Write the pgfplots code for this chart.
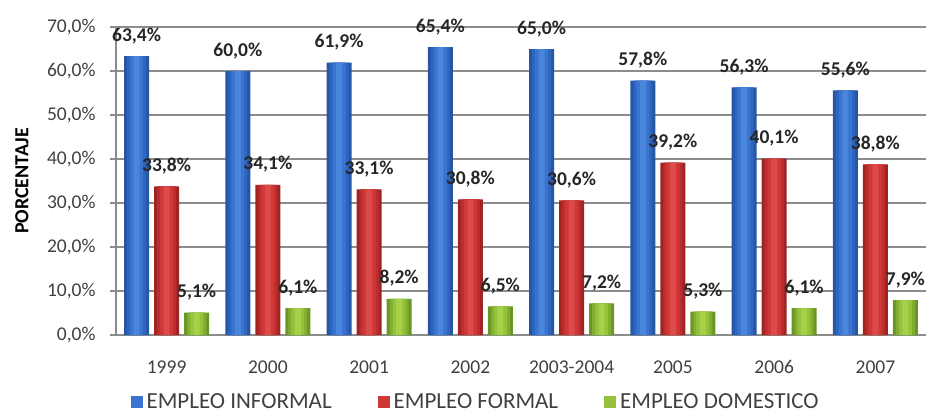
\documentclass[border=0pt]{standalone}
\usepackage{fontspec}
\setmainfont{Carlito}
\usepackage{pgfplots}
\usepackage{pgfplotstable}
\pgfplotsset{compat=1.18}
\definecolor{bluE}{HTML}{2656A6}
\definecolor{bluA}{HTML}{2E66BE}
\definecolor{bluM}{HTML}{3874D0}
\definecolor{bluL}{HTML}{4A86DC}
\definecolor{redE}{HTML}{A02424}
\definecolor{redA}{HTML}{BC2E2E}
\definecolor{redM}{HTML}{D03838}
\definecolor{redL}{HTML}{DC4A4A}
\definecolor{grnE}{HTML}{6A9626}
\definecolor{grnA}{HTML}{80AE30}
\definecolor{grnM}{HTML}{95C23A}
\definecolor{grnL}{HTML}{A6D04A}
\definecolor{gridc}{HTML}{8C8C8C}
\definecolor{txt}{HTML}{404040}
\newcommand\F{\fontsize{19.5}{23}\selectfont}
\pgfplotstableread{
x  inf   for   dom
0  63.4  33.8  5.1
1  60.0  34.1  6.1
2  61.9  33.1  8.2
3  65.4  30.8  6.5
4  65.0  30.6  7.2
5  57.8  39.2  5.3
6  56.3  40.1  6.1
7  55.6  38.8  7.9
}\data
\begin{document}
\begin{tikzpicture}
\begin{axis}[
  at={(0pt,0pt)}, anchor=south west,
  width=810pt, height=308pt, scale only axis,
  ybar,
  xmin=-0.5, xmax=7.5,
  ymin=0, ymax=70,
  xtick={0,...,7},
  xticklabels={1999,2000,2001,2002,2003-2004,2005,2006,2007},
  ytick={0,10,...,70},
  axis x line*=bottom, axis y line*=left,
  axis line style={gridc, line width=1.2pt},
  ymajorgrids, grid style={gridc, line width=1.1pt},
  major x tick style={draw=none},
  major y tick style={gridc, line width=1.2pt},
  tick align=outside, major tick length=6pt,
  /pgf/number format/assume math mode=true,
  yticklabel={\pgfmathprintnumber[fixed,fixed zerofill,precision=1,use comma]{\tick}\%},
  tick label style={font=\F, text=txt},
  yticklabel style={xshift=-11pt},
  xticklabel style={yshift=-16pt},
  ylabel={PORCENTAJE},
  every axis y label/.style={at={(axis description cs:0,0.5)}, xshift=-94pt, rotate=90, anchor=center, font=\fontsize{20}{24}\selectfont\bfseries, text=black},
  every node near coord/.append style={font=\F\bfseries, text=black!85, anchor=base, yshift=15pt, inner sep=0pt},
  legend columns=3,
  legend style={at={(axis description cs:0.444,0)}, anchor=center, yshift=-67pt, draw=none, fill=none,
    font=\fontsize{23}{27}\selectfont, text=txt,
    /tikz/every even column/.append style={column sep=44pt},
    /tikz/every odd column/.append style={column sep=2pt}},
]
% informal
\addplot[draw=none, fill=bluE, bar width=25pt, bar shift=-30pt,
  nodes near coords={\pgfmathprintnumber[fixed,fixed zerofill,precision=1,use comma]{\pgfplotspointmeta}\%},
  legend image code/.code={\fill[bluM] (0pt,-6pt) rectangle (12pt,6pt);}]
  table[x=x,y=inf]{\data};
\addlegendentry{EMPLEO INFORMAL}
\addplot[forget plot, draw=none, fill=bluA, bar width=19pt, bar shift=-30pt] table[x=x,y=inf]{\data};
\addplot[forget plot, draw=none, fill=bluM, bar width=13pt, bar shift=-30pt] table[x=x,y=inf]{\data};
\addplot[forget plot, draw=none, fill=bluL, bar width=6pt, bar shift=-30pt] table[x=x,y=inf]{\data};
% formal
\addplot[draw=none, fill=redE, bar width=25pt, bar shift=0pt,
  nodes near coords={\pgfmathprintnumber[fixed,fixed zerofill,precision=1,use comma]{\pgfplotspointmeta}\%},
  legend image code/.code={\fill[redM] (0pt,-6pt) rectangle (12pt,6pt);}]
  table[x=x,y=for]{\data};
\addlegendentry{EMPLEO FORMAL}
\addplot[forget plot, draw=none, fill=redA, bar width=19pt, bar shift=0pt] table[x=x,y=for]{\data};
\addplot[forget plot, draw=none, fill=redM, bar width=13pt, bar shift=0pt] table[x=x,y=for]{\data};
\addplot[forget plot, draw=none, fill=redL, bar width=6pt, bar shift=0pt] table[x=x,y=for]{\data};
% domestico
\addplot[draw=none, fill=grnE, bar width=25pt, bar shift=30pt,
  nodes near coords={\pgfmathprintnumber[fixed,fixed zerofill,precision=1,use comma]{\pgfplotspointmeta}\%},
  legend image code/.code={\fill[grnM] (0pt,-6pt) rectangle (12pt,6pt);}]
  table[x=x,y=dom]{\data};
\addlegendentry{EMPLEO DOMESTICO}
\addplot[forget plot, draw=none, fill=grnA, bar width=19pt, bar shift=30pt] table[x=x,y=dom]{\data};
\addplot[forget plot, draw=none, fill=grnM, bar width=13pt, bar shift=30pt] table[x=x,y=dom]{\data};
\addplot[forget plot, draw=none, fill=grnL, bar width=6pt, bar shift=30pt] table[x=x,y=dom]{\data};
\end{axis}
\pgfresetboundingbox
\useasboundingbox (-116pt,-80pt) rectangle (812pt,335pt);
\end{tikzpicture}
\end{document}
